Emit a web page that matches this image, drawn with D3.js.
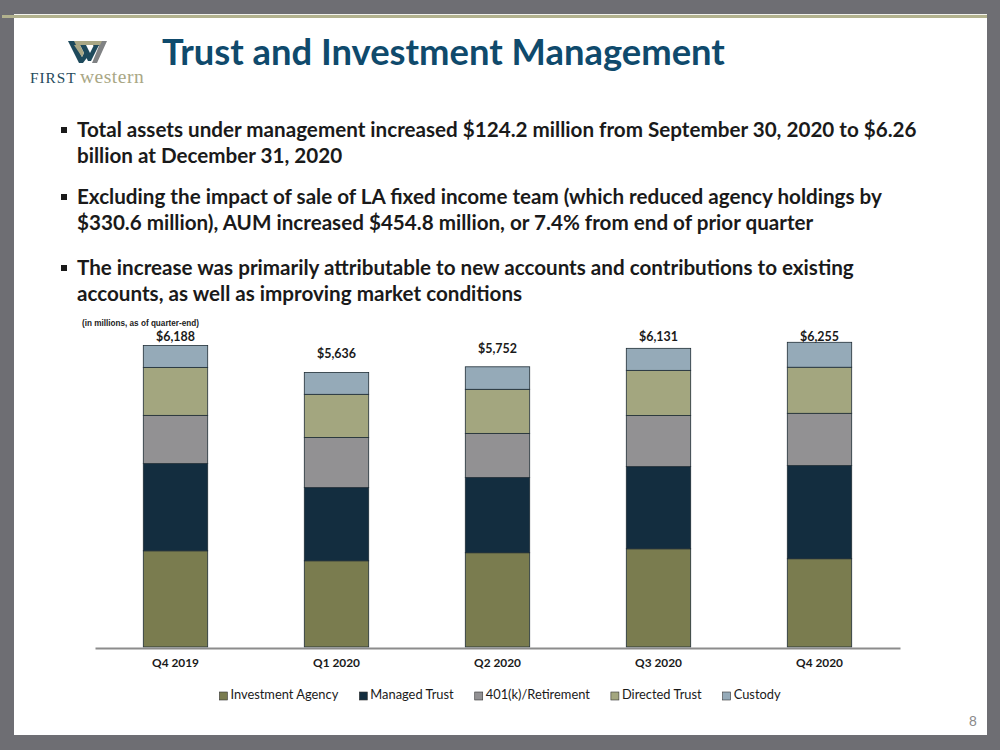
<!DOCTYPE html>
<html><head><meta charset="utf-8">
<script src="https://cdn.jsdelivr.net/npm/d3@7"></script>
<style>body{margin:0;background:#fff}svg{display:block}</style>
</head><body><svg id="c" width="1000" height="750"></svg>
<script>
const categories = ["Q4 2019","Q1 2020","Q2 2020","Q3 2020","Q4 2020"];
const seriesNames = ["Investment Agency","Managed Trust","401(k)/Retirement","Directed Trust","Custody"];
const investmentAgency = [1975,1770,1935,2016,1812];
const managedTrust    = [1790,1502,1545,1687,1914];
const retirement401k  = [990,1030,905,1050,1071];
const directedTrust   = [985,885,905,926,946];
const custody         = [448,449,462,452,512];
const totals          = [6188,5636,5752,6131,6255];
const totalLabels     = ["$6,188","$5,636","$5,752","$6,131","$6,255"];
const seriesColors    = ["#7a7c4f","#132d3f","#929193","#a3a67f","#95aab8"];
const titleText = "Trust and Investment Management";
const bulletLines = [
  ["Total assets under management increased $124.2 million from September 30, 2020 to $6.26","billion at December 31, 2020"],
  ["Excluding the impact of sale of LA fixed income team (which reduced agency holdings by","$330.6 million), AUM increased $454.8 million, or 7.4% from end of prior quarter"],
  ["The increase was primarily attributable to new accounts and contributions to existing","accounts, as well as improving market conditions"]
];
const unitNote = "(in millions, as of quarter-end)";
const pageNumber = "8";

const svg = d3.select("#c");
const FONT = "Lato, 'Open Sans', sans-serif";

function fit(sel, target){
  const w = sel.node().getComputedTextLength();
  const fs = parseFloat(sel.attr("font-size"));
  sel.attr("font-size", (fs*target/w).toFixed(2));
  return fs*target/w;
}

// frame
svg.append("rect").attr("x",0).attr("y",0).attr("width",1000).attr("height",750).attr("fill","#6e6e73");
svg.append("rect").attr("x",14).attr("y",18).attr("width",973).attr("height",717).attr("fill","#ffffff");
svg.append("rect").attr("x",14).attr("y",14).attr("width",973).attr("height",1).attr("fill","#f4f4ee");
svg.append("rect").attr("x",2).attr("y",15).attr("width",985).attr("height",3).attr("fill","#b2b28e");

// logo
const logo = svg.append("g");
logo.append("polygon").attr("points","93,41 107,41 97,63 92,63 99,46 93,46").attr("fill","#808284");
logo.append("polygon").attr("points","71,41 102,41 100,45 74,45").attr("fill","#a9a785");
logo.append("polygon").attr("points","68,41 74,41 82,57 86,49 89,55 83,63 79,63").attr("fill","#1e4a5c");
logo.append("polygon").attr("points","80,45 86,45 90,53 94,45 99,45 91,61 88,61").attr("fill","#1e4a5c");
logo.append("polygon").attr("points","74,45 80,45 84,53 82,57").attr("fill","#a9a785");
const lf = logo.append("text").attr("x",30).attr("y",83).attr("font-family","'Liberation Serif','DejaVu Serif',serif")
  .attr("font-size",12).attr("letter-spacing",1).attr("fill","#1e4a5c").text("FIRST");
fit(lf,48);
const lw = logo.append("text").attr("x",80).attr("y",83).attr("font-family","'Liberation Serif','DejaVu Serif',serif")
  .attr("font-size",16).attr("letter-spacing",0.5).attr("fill","#a9a785").text("western");
fit(lw,65);

// title
const tt = svg.append("text").attr("x",162).attr("y",65).attr("font-family",FONT).attr("font-weight",700)
  .attr("font-size",32).attr("fill","#0f4a6c").text(titleText);
fit(tt, 563);

// bullets
const bulletBase = [137,204,275];
let bfs = null;
bulletLines.forEach((lines,i)=>{
  svg.append("rect").attr("x",61).attr("y",bulletBase[i]-10).attr("width",6).attr("height",6).attr("fill","#1a1a1a");
  lines.forEach((ln,j)=>{
    const t = svg.append("text").attr("x",77).attr("y",bulletBase[i]+j*26).attr("font-family",FONT)
      .attr("font-weight",700).attr("font-size",18).attr("fill","#1a1a1a").text(ln);
    if(i===0 && j===0) bfs = fit(t, 840);
    else t.attr("font-size", bfs.toFixed(2));
  });
});

// unit note
const un = svg.append("text").attr("x",82).attr("y",326).attr("font-family","'Liberation Sans',Arial,sans-serif")
  .attr("font-weight",700).attr("font-size",9).attr("fill","#222").text(unitNote);
fit(un,117);

// chart
const rows = categories.map((c,i)=>({
  cat:c,
  "Investment Agency":investmentAgency[i],
  "Managed Trust":managedTrust[i],
  "401(k)/Retirement":retirement401k[i],
  "Directed Trust":directedTrust[i],
  "Custody":custody[i]
}));
const x = d3.scaleBand().domain(categories).range([95,900]).paddingInner(0.6).paddingOuter(0.3);
const y = d3.scaleLinear().domain([0,7000]).range([647,306]);
const stack = d3.stack().keys(seriesNames)(rows);

const g = svg.append("g");
g.selectAll("g.s").data(stack).join("g").attr("class","s")
  .attr("fill",(d,i)=>seriesColors[i])
  .selectAll("rect").data(d=>d).join("rect")
  .attr("x",d=>x(d.data.cat)).attr("width",x.bandwidth())
  .attr("y",d=>y(d[1])).attr("height",d=>y(d[0])-y(d[1]))
  .attr("stroke","#1f2d36").attr("stroke-width",0.8);

// axis
const ax = g.append("g").attr("transform","translate(0,648)").call(d3.axisBottom(x).tickSize(0).tickSizeOuter(0));
ax.select(".domain").attr("stroke","#8c8c8c").attr("stroke-width",2);
let afs=null;
ax.selectAll(".tick text").attr("y",19).attr("dy",0).attr("font-family",FONT).attr("font-weight",700)
  .attr("font-size",12).attr("fill","#1a1a1a").each(function(d,i){
    const s=d3.select(this);
    if(i===0) afs=fit(s,47); else s.attr("font-size",afs.toFixed(2));
  });

// totals
let tfs=null;
g.selectAll("text.tot").data(categories).join("text").attr("class","tot")
  .attr("x",d=>x(d)+x.bandwidth()/2)
  .attr("y",(d,i)=>Math.max(y(totals[i])-14, y(6188)-5))
  .attr("text-anchor","middle").attr("font-family",FONT).attr("font-weight",700)
  .attr("font-size",13).attr("fill","#1a1a1a").text((d,i)=>totalLabels[i])
  .each(function(d,i){const s=d3.select(this); if(i===0) tfs=fit(s,39); else s.attr("font-size",tfs.toFixed(2));});

// legend
const leg = svg.append("g");
let lfs=null;
const items = seriesNames.map((n,i)=>{
  const t = leg.append("text").attr("y",699).attr("font-family",FONT).attr("font-size",13).attr("fill","#1a1a1a").text(n);
  if(i===0) lfs=fit(t,108); else t.attr("font-size",lfs.toFixed(2));
  return t;
});
const sw=8, gap=3, spacing=21;
const widths = items.map(t=>t.node().getComputedTextLength());
const total = d3.sum(widths)+seriesNames.length*(sw+gap)+spacing*(seriesNames.length-1);
let cx = 500 - total/2;
items.forEach((t,i)=>{
  leg.append("rect").attr("x",cx).attr("y",692).attr("width",sw).attr("height",sw)
    .attr("fill",seriesColors[i]).attr("stroke","#333").attr("stroke-width",0.6);
  t.attr("x",cx+sw+gap);
  cx += sw+gap+widths[i]+spacing;
});

// page number
svg.append("text").attr("x",969).attr("y",726).attr("font-family","'Liberation Sans',Arial,sans-serif")
  .attr("font-size",14).attr("fill","#8a8a8a").text(pageNumber);
</script></body></html>
